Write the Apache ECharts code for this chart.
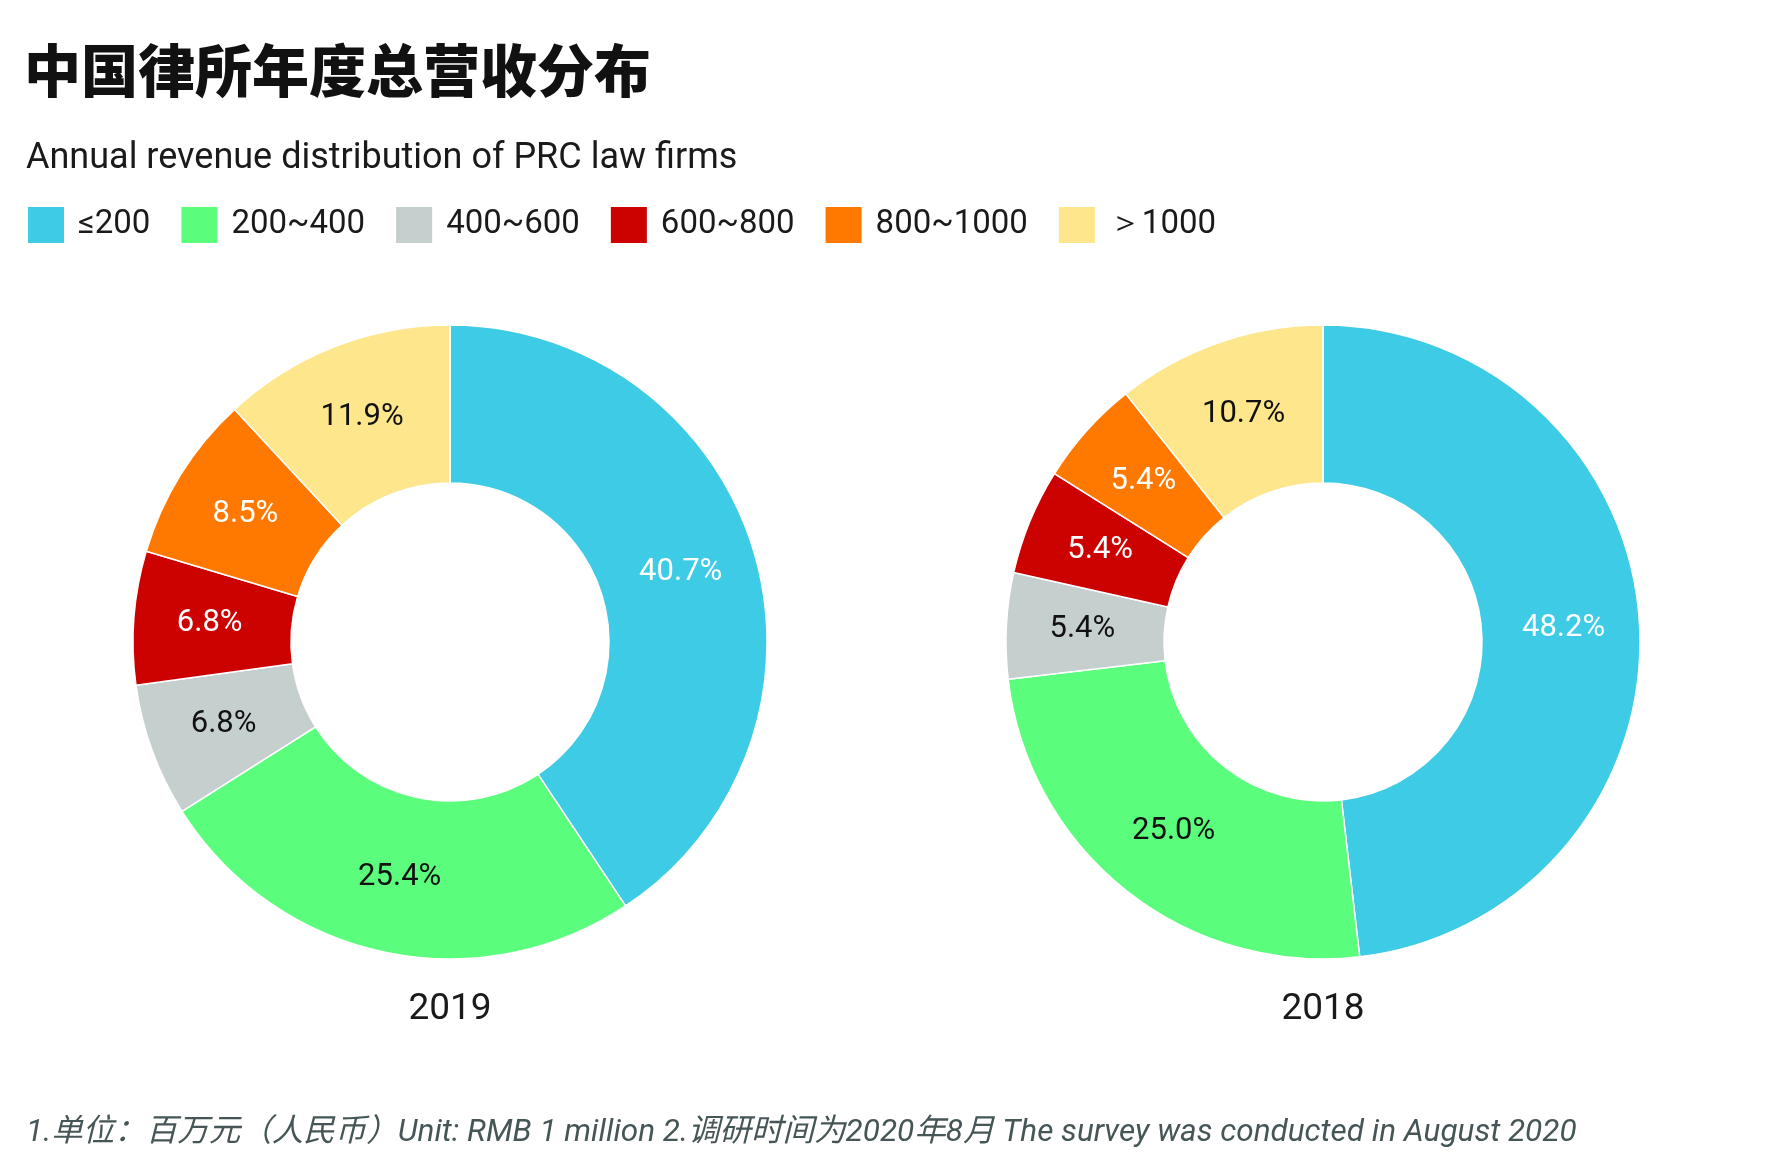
<!DOCTYPE html>
<html>
<head>
<meta charset="utf-8">
<script src="https://cdn.jsdelivr.net/npm/echarts@6/dist/echarts.min.js"></script>
<style>
html,body{margin:0;padding:0;background:#fff;}
#chart{width:1772px;height:1156px;}
</style>
</head>
<body>
<div id="chart"></div>
<script>
const categories = ['≤200', '200~400', '400~600', '600~800', '800~1000', '＞1000'];
const values2019 = [40.7, 25.4, 6.8, 6.8, 8.5, 11.9];
const values2018 = [48.2, 25.0, 5.4, 5.4, 5.4, 10.7];
const pieNames = ['2019', '2018'];
const colors = ['#3ecbe6', '#5bfe7c', '#c5cfce', '#cc0200', '#ff7800', '#fde68b'];
const labelColors = ['#ffffff', '#111111', '#111111', '#ffffff', '#ffffff', '#111111'];

const chart = echarts.init(document.getElementById('chart'));

function makeData(vals) {
  return categories.map((c, i) => ({
    name: c,
    value: vals[i],
    itemStyle: { color: colors[i] },
    label: { color: labelColors[i] }
  }));
}

function pieSeries(vals, cx) {
  return {
    type: 'pie',
    center: [cx, 642],
    radius: [159, 317],
    startAngle: 90,
    clockwise: true,
    avoidLabelOverlap: false,
    silent: true,
    itemStyle: { borderColor: '#ffffff', borderWidth: 1.5 },
    label: {
      show: true,
      position: 'inside',
      formatter: p => p.value.toFixed(1) + '%',
      fontFamily: 'Roboto',
      fontSize: 31,
      padding: [4, 0, 0, 0]
    },
    labelLine: { show: false },
    data: makeData(vals)
  };
}

chart.setOption({
  animation: false,
  backgroundColor: '#ffffff',
  title: [
    {
      text: '中国律所年度总营收分布',
      left: 24, top: 42, padding: 0,
      textStyle: { fontFamily: 'Noto Sans CJK SC', fontWeight: 900, fontSize: 57, color: '#111111' }
    },
    {
      text: 'Annual revenue distribution of PRC law firms',
      left: 26, top: 141, padding: 0,
      textStyle: { fontFamily: 'Roboto', fontWeight: 'normal', fontSize: 36, color: '#1a1a1a' }
    },
    {
      text: pieNames[0],
      left: 450, top: 991, padding: 0, textAlign: 'center',
      textStyle: { fontFamily: 'Roboto', fontWeight: 'normal', fontSize: 37, color: '#1a1a1a' }
    },
    {
      text: pieNames[1],
      left: 1323, top: 991, padding: 0, textAlign: 'center',
      textStyle: { fontFamily: 'Roboto', fontWeight: 'normal', fontSize: 37, color: '#1a1a1a' }
    },
    {
      text: '1.单位：百万元（人民币）Unit: RMB 1 million 2.调研时间为2020年8月 The survey was conducted in August 2020',
      left: 26, top: 1117, padding: 0,
      textStyle: { fontFamily: 'Roboto, Noto Sans CJK SC', fontStyle: 'italic', fontWeight: 'normal', fontSize: 31.5, color: '#465656' }
    }
  ],
  legend: {
    data: categories,
    left: 26, top: 205, padding: 0,
    itemWidth: 38, itemHeight: 38,
    itemGap: 29,
    icon: 'rect',
    selectedMode: false,
    textStyle: { fontFamily: 'Roboto', fontSize: 33, color: '#1a1a1a', padding: [3, 0, 0, 8] }
  },
  series: [pieSeries(values2019, 450), pieSeries(values2018, 1323)]
});
</script>
</body>
</html>
